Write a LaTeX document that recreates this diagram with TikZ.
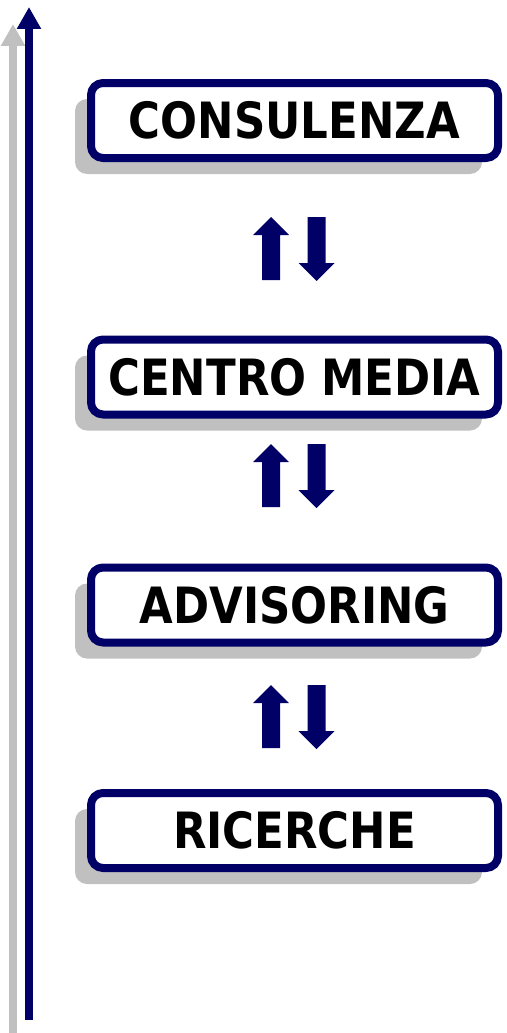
\documentclass[tikz,border=0pt]{standalone}
\usepackage{fontspec}
\newfontfamily\boxfont[FakeStretch=0.87]{DejaVu Sans}
\usetikzlibrary{positioning,arrows.meta,shadows}
\definecolor{navyblu}{RGB}{0,0,102}
\definecolor{ombra}{RGB}{192,192,192}

\begin{document}
\begin{tikzpicture}[
		x=1pt,y=-1pt,
		line join=round,
		livello/.style={draw=navyblu, line width=8pt, fill=white,
			rounded corners=12pt, inner sep=0pt,
			minimum width=407pt, minimum height=75pt,
			font=\boxfont\bfseries\fontsize{50}{60}\selectfont,
			drop shadow={shadow xshift=-16pt, shadow yshift=-16pt, fill=ombra, opacity=1}},
		% block arrows, drawn around their centre
		frecciasu/.pic={\fill[navyblu] (0,-32) -- (18,-14) -- (9,-14) -- (9,31)
			-- (-9,31) -- (-9,-14) -- (-18,-14) -- cycle;},
		frecciagiu/.pic={\fill[navyblu] (0,32) -- (18,14) -- (9,14) -- (9,-32)
			-- (-9,-32) -- (-9,14) -- (-18,14) -- cycle;}
		]
		% ---- frame
		\useasboundingbox (0,0) rectangle (506,1033);
		
		% ---- vertical axis (with its shadow)
		\coordinate (asse-base) at (29,1020);
		\coordinate (asse-cima) at (29,7);
		\draw[ombra, line width=8pt, -{Triangle[length=22pt,width=23pt]}]
		([shift={(-16,17)}]asse-base) -- ([shift={(-16,17)}]asse-cima);
		\draw[navyblu, line width=8pt, -{Triangle[length=22pt,width=23pt]}]
		(asse-base) -- (asse-cima);
		
		% ---- levels
		\node[livello] (consulenza) at (294.5,120.5) {CONSULENZA};
		\node[livello] (centro)     at (294.5,377)   {CENTRO MEDIA};
		\node[livello] (advisoring) at (294.5,605)   {ADVISORING};
		\node[livello] (ricerche)   at (294.5,830.5) {RICERCHE};
		
		% ---- up/down arrows between levels
		\foreach \sotto/\yc in {centro/249, advisoring/476, ricerche/717}{
			\pic (su-\sotto)  at (271,\yc)   {frecciasu};
			\pic (giu-\sotto) at (316.5,\yc) {frecciagiu};
		}
	\end{tikzpicture}
\end{document}
